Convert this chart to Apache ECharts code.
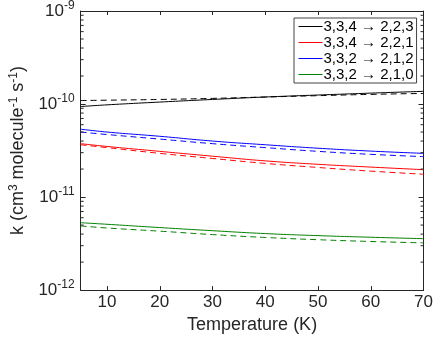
<!DOCTYPE html>
<html>
<head>
<meta charset="utf-8">
<script src="https://cdn.jsdelivr.net/npm/echarts@6/dist/echarts.min.js"></script>
<style>
  html, body { margin: 0; padding: 0; background: #fff; }
  #chart { width: 436px; height: 339px; }
</style>
</head>
<body>
<div id="chart"></div>
<script>
// temperatures (K)
const temps = [5, 10, 20, 30, 40, 50, 60, 70];
// rate coefficients, solid = first model, dashed = second
const names = ['3,3,4 → 2,2,3', '3,3,4 → 2,2,1', '3,3,2 → 2,1,2', '3,3,2 → 2,1,0'];
const colors = ['#000000', '#ff0000', '#0000ff', '#008000'];
const solid223 = [9.4e-11, 9.8e-11, 1.05e-10, 1.12e-10, 1.19e-10, 1.25e-10, 1.31e-10, 1.37e-10];
const dashed223 = [1.09e-10, 1.10e-10, 1.12e-10, 1.15e-10, 1.19e-10, 1.23e-10, 1.27e-10, 1.30e-10];
const solid221 = [3.75e-11, 3.5e-11, 3.1e-11, 2.75e-11, 2.45e-11, 2.25e-11, 2.1e-11, 1.97e-11];
const dashed221 = [3.65e-11, 3.4e-11, 2.95e-11, 2.6e-11, 2.3e-11, 2.08e-11, 1.9e-11, 1.76e-11];
const solid212 = [5.37e-11, 5.0e-11, 4.5e-11, 4.0e-11, 3.65e-11, 3.35e-11, 3.12e-11, 2.95e-11];
const dashed212 = [5.0e-11, 4.7e-11, 4.2e-11, 3.75e-11, 3.4e-11, 3.1e-11, 2.88e-11, 2.72e-11];
const solid210 = [5.3e-12, 5.1e-12, 4.7e-12, 4.35e-12, 4.05e-12, 3.85e-12, 3.7e-12, 3.57e-12];
const dashed210 = [4.9e-12, 4.65e-12, 4.3e-12, 3.95e-12, 3.68e-12, 3.48e-12, 3.33e-12, 3.22e-12];
const xTicks = [10, 20, 30, 40, 50, 60, 70];
// minor log ticks 2..9 in each decade
const minorTicks = [];
[1e-12, 1e-11, 1e-10].forEach(d => { for (let m = 2; m <= 9; m++) minorTicks.push(m * d); });

const solids = [solid223, solid221, solid212, solid210];
const dashes = [dashed223, dashed221, dashed212, dashed210];

const font = 'Liberation Sans, Arial, sans-serif';
const axisColor = '#262626';

const zip = arr => temps.map((t, i) => [t, arr[i]]);

const series = [];
solids.forEach((s, i) => {
    series.push({
        name: names[i], type: 'line', data: zip(s), smooth: true, symbol: 'none',
        lineStyle: { color: colors[i], width: 1 }, itemStyle: { color: colors[i] }, z: 3
    });
});
dashes.forEach((s, i) => {
    series.push({
        name: names[i] + ' (dashed)', type: 'line', data: zip(s), smooth: true, symbol: 'none',
        lineStyle: { color: colors[i], width: 1, type: [6, 4] }, z: 3
    });
});
// minor ticks on left and right edges
series.push({
    type: 'custom', silent: true, z: 4,
    data: minorTicks.map(v => [5, v]),
    renderItem: (params, api) => {
        const v = api.value(1);
        const l = api.coord([5, v]);
        const r = api.coord([70, v]);
        const st = { stroke: axisColor, lineWidth: 1 };
        return {
            type: 'group', children: [
                { type: 'line', shape: { x1: l[0], y1: l[1], x2: l[0] + 3, y2: l[1] }, style: st },
                { type: 'line', shape: { x1: r[0], y1: r[1], x2: r[0] - 3, y2: r[1] }, style: st }
            ]
        };
    }
});

const supLabel = v => '{b|10}{s|' + Math.round(Math.log10(v)) + '}';

const chart = echarts.init(document.getElementById('chart'));
chart.setOption({
    animation: false,
    textStyle: { fontFamily: font },
    grid: { left: 70, right: 9, top: 10, bottom: 40, containLabel: false },
    legend: {
        data: names, left: 294, top: 18, orient: 'vertical',
        itemWidth: 24, itemHeight: 10, itemGap: 1,
        padding: [1, 3, 1, 4],
        itemStyle: { opacity: 0 },
        lineStyle: { width: 1 },
        backgroundColor: '#fff', borderColor: '#444', borderWidth: 1,
        textStyle: { fontFamily: font, fontSize: 15, color: '#000', padding: [0, 0, 0, -4] }
    },
    xAxis: [{
        type: 'value', min: 5, max: 70,
        name: 'Temperature (K)', nameLocation: 'middle', nameGap: 24,
        nameTextStyle: { fontFamily: font, fontSize: 18, color: axisColor },
        axisLine: { lineStyle: { color: axisColor } },
        axisTick: { inside: true, length: 4, customValues: xTicks, lineStyle: { color: axisColor } },
        axisLabel: { customValues: xTicks, fontFamily: font, fontSize: 17, color: axisColor, margin: 4 },
        splitLine: { show: false }
    }, {
        type: 'value', min: 5, max: 70, position: 'top',
        axisLine: { lineStyle: { color: axisColor } },
        axisTick: { inside: true, length: 4, customValues: xTicks, lineStyle: { color: axisColor } },
        axisLabel: { show: false }, splitLine: { show: false }
    }],
    yAxis: [{
        type: 'log', min: 1e-12, max: 1e-9, logBase: 10,
        name: '{t|k (cm}{s|3}{t| molecule}{s|-1}{t| s}{s|-1}{t|)}',
        nameLocation: 'middle', nameGap: 47, nameRotate: 90,
        nameTextStyle: {
            rich: {
                t: { fontFamily: font, fontSize: 18, color: axisColor },
                s: { fontFamily: font, fontSize: 12, color: axisColor, padding: [0, 0, 9, 0] }
            }
        },
        axisLine: { lineStyle: { color: axisColor } },
        axisTick: { inside: true, length: 5, lineStyle: { color: axisColor } },
        axisLabel: {
            formatter: supLabel, margin: 6,
            rich: {
                b: { fontFamily: font, fontSize: 17, color: axisColor },
                s: { fontFamily: font, fontSize: 12, color: axisColor, padding: [0, 0, 10, 0] }
            }
        },
        splitLine: { show: false }
    }, {
        type: 'log', min: 1e-12, max: 1e-9, logBase: 10, position: 'right',
        axisLine: { lineStyle: { color: axisColor } },
        axisTick: { inside: true, length: 5, lineStyle: { color: axisColor } },
        axisLabel: { show: false }, splitLine: { show: false }
    }],
    series: series
});
</script>
</body>
</html>
